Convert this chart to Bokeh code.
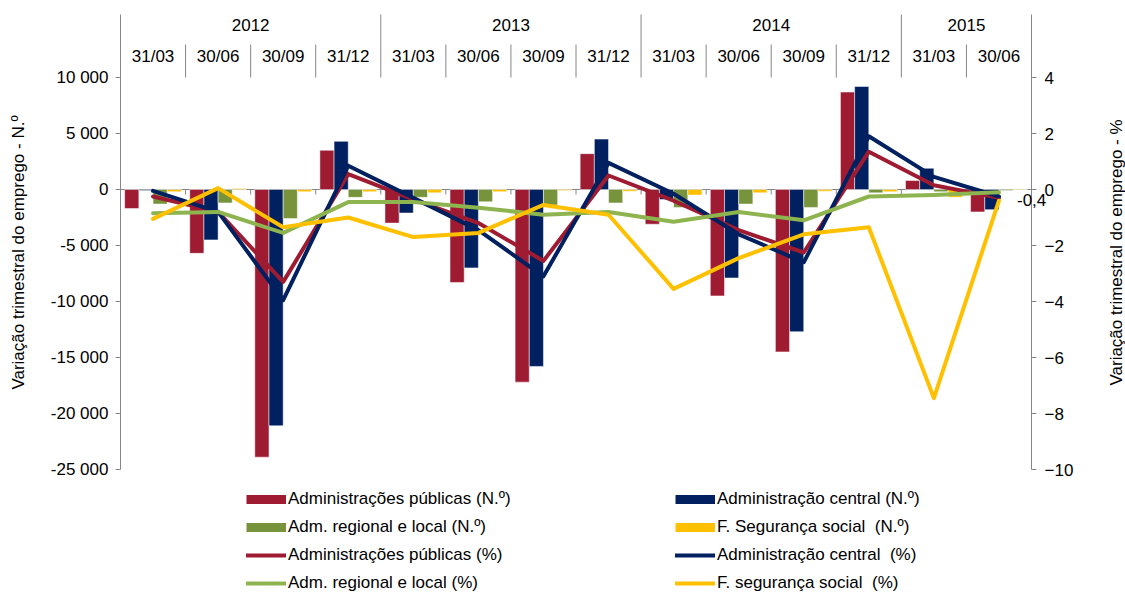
from bokeh.plotting import figure
from bokeh.models import (Range1d, LinearAxis, FixedTicker, Legend, LegendItem,
                          ColumnDataSource, Label)
from bokeh.transform import dodge
from bokeh.embed import file_html
from bokeh.resources import INLINE

# ---------------- data ----------------
quarters = ["31/03", "30/06", "30/09", "31/12",
            "31/03", "30/06", "30/09", "31/12",
            "31/03", "30/06", "30/09", "31/12",
            "31/03", "30/06"]
quarter_year = ["2012"] * 4 + ["2013"] * 4 + ["2014"] * 4 + ["2015"] * 2
years = ["2012", "2013", "2014", "2015"]

# quarterly change, number of jobs (left axis)
ap_n = [-1700, -5700, -23900, 3500, -3000, -8300, -17200, 3200, -3100, -9500, -14500, 8700, 800, -2000]
ac_n = [-100, -4500, -21100, 4300, -2100, -7000, -15800, 4500, -900, -7900, -12700, 9200, 1900, -1800]
arl_n = [-1300, -1200, -2600, -700, -700, -1100, -1400, -1200, -1600, -1300, -1600, -300, -200, -100]
fss_n = [-200, 100, -200, -200, -300, -200, -100, -150, -500, -300, -150, -200, -700, -50]

# quarterly change, % (right axis)
ap_p = [-0.25, -0.8, -3.3, 0.55, -0.35, -1.2, -2.55, 0.5, -0.4, -1.45, -2.25, 1.35, 0.15, -0.3]
ac_p = [-0.05, -0.8, -3.95, 0.85, -0.3, -1.45, -3.1, 0.95, -0.15, -1.6, -2.6, 1.9, 0.45, -0.25]
arl_p = [-0.85, -0.8, -1.55, -0.45, -0.45, -0.65, -0.9, -0.8, -1.15, -0.8, -1.1, -0.25, -0.2, -0.1]
fss_p = [-1.05, 0.05, -1.35, -1.0, -1.7, -1.55, -0.55, -0.9, -3.55, -2.45, -1.6, -1.35, -7.45, -0.4]

left_ticks = [-25000, -20000, -15000, -10000, -5000, 0, 5000, 10000]
right_ticks = [-10, -8, -6, -4, -2, 0, 2, 4]
left_bounds = (-25000, 15625)
right_bounds = (-10, 6.25)

bar_labels = ["Administrações públicas (N.º)", "Administração central (N.º)",
              "Adm. regional e local (N.º)", "F. Segurança social  (N.º)"]
line_labels = ["Administrações públicas (%)", "Administração central  (%)",
               "Adm. regional e local (%)", "F. segurança social  (%)"]
left_title = "Variação trimestral do emprego - N.º"
right_title = "Variação trimestral do emprego - %"

# ---------------- style / layout ----------------
RED = "#9E1B32"
NAVY = "#002060"
GREEN_BAR = "#77933C"
GREEN_LINE = "#8EB44F"
YELLOW = "#FFC000"
GREY = "#868686"
FONT = "Liberation Sans"
FS = "17px"

CW, CH = 1125, 596           # canvas
PLOT_L, PLOT_R = 120, 1031   # pixel edges of the category area
ZERO_Y = 189                 # pixel row of zero
PX = 5000 / 56.0             # left-axis units per pixel
PCT_PER_UNIT = 2 / 5000.0    # right axis: 2 % per 5 000

n = len(quarters)
idx = list(range(n))
PXX = (PLOT_R - PLOT_L) / n  # pixels per category

x_start = -0.5 - PLOT_L / PXX
x_end = -0.5 + (CW - PLOT_L) / PXX
y_start = -(CH - ZERO_Y) * PX
y_end = ZERO_Y * PX

p = figure(width=CW, height=CH, output_backend="svg", toolbar_location=None,
           x_range=Range1d(x_start, x_end), y_range=Range1d(y_start, y_end),
           x_axis_location=None, y_axis_location="left", min_border=0)
p.outline_line_color = None
p.grid.visible = False
p.background_fill_color = "white"
p.border_fill_color = "white"
p.extra_y_ranges = {"pct": Range1d(y_start * PCT_PER_UNIT, y_end * PCT_PER_UNIT)}

# axes (fixed at the edges of the category area)
yax = p.yaxis[0]
yax.ticker = FixedTicker(ticks=left_ticks)
yax.major_label_overrides = {t: f"{t:,}".replace(",", " ") for t in left_ticks}
yax.major_label_standoff = 7
yax.bounds = left_bounds
yax.fixed_location = -0.5
rax = LinearAxis(y_range_name="pct", ticker=FixedTicker(ticks=right_ticks))
rax.major_label_standoff = 8
rax.bounds = right_bounds
rax.fixed_location = n - 0.5
p.add_layout(rax, "right")
for ax in (yax, rax):
    ax.axis_line_color = GREY
    ax.major_tick_line_color = GREY
    ax.major_tick_out = 5
    ax.major_tick_in = 0
    ax.minor_tick_line_color = None
    ax.major_label_text_font = FONT
    ax.major_label_text_font_size = FS
    ax.major_label_text_color = "black"

# zero line with category ticks
p.segment(x0=[-0.5], y0=[0], x1=[n - 0.5], y1=[0], line_color=GREY, line_width=1, level="underlay")
bounds = [k - 0.5 for k in range(1, n)]
p.segment(x0=bounds, y0=[0] * len(bounds), x1=bounds, y1=[-5 * PX] * len(bounds),
          line_color=GREY, line_width=1)

# bars
w = 0.218
src = ColumnDataSource(dict(x=idx, ap=ap_n, ac=ac_n, arl=arl_n, fss=fss_n))
bar_cols = [("ap", RED), ("ac", NAVY), ("arl", GREEN_BAR), ("fss", YELLOW)]
bar_proxies = []
nan = float("nan")
for k, (col, color) in enumerate(bar_cols):
    p.vbar(x=dodge("x", (k - 1.5) * w, range=p.x_range), top=col, bottom=0, width=w,
           source=src, fill_color=color, line_color="white", line_alpha=0.5, line_width=1)
    # legend swatch: a thick flat stroke like the reference's bar key
    bar_proxies.append(p.line(x=[nan, nan], y=[nan, nan], line_color=color,
                              line_width=9, line_cap="butt"))

# lines
line_renderers = []
for vals, color in [(ap_p, RED), (ac_p, NAVY), (arl_p, GREEN_LINE), (fss_p, YELLOW)]:
    line_renderers.append(p.line(idx, vals, y_range_name="pct", line_color=color,
                                 line_width=4, line_join="round", line_cap="round"))

# data label on last F. segurança social point
p.add_layout(Label(x=idx[-1], y=fss_p[-1], y_range_name="pct", x_offset=18, y_offset=1,
                   text=f"{fss_p[-1]:.1f}".replace(".", ","), text_font=FONT,
                   text_font_size=FS, text_align="left", text_baseline="middle",
                   text_color="black"))

# header (two-level category axis at top)
Y1 = left_bounds[1]
HDR_BOTTOM = left_ticks[-1]
q_sep, y_sep = [], []
for k in range(1, n):
    (y_sep if quarter_year[k] != quarter_year[k - 1] else q_sep).append(k - 0.5)
p.segment(x0=y_sep, y0=[Y1] * len(y_sep), x1=y_sep, y1=[HDR_BOTTOM] * len(y_sep),
          line_color=GREY, line_width=1)
p.segment(x0=q_sep, y0=[Y1 - 30 * PX] * len(q_sep), x1=q_sep, y1=[HDR_BOTTOM] * len(q_sep),
          line_color=GREY, line_width=1)
p.text(x=idx, y=[Y1 - 42 * PX] * n, text=quarters, text_font={"value": FONT},
       text_font_size={"value": FS}, text_align="center", text_baseline="middle",
       text_color="black")
year_x = [sum(i for i in idx if quarter_year[i] == yv) / quarter_year.count(yv) for yv in years]
p.text(x=year_x, y=[Y1 - 10 * PX] * len(years), text=years, text_font={"value": FONT},
       text_font_size={"value": FS}, text_align="center", text_baseline="middle",
       text_color="black")

# axis titles
title_y = (ZERO_Y - 252) * PX
p.add_layout(Label(x=-0.5, y=title_y, x_offset=-102, text=left_title, angle=90,
                   angle_units="deg", text_font=FONT, text_font_size=FS,
                   text_align="center", text_baseline="middle", text_color="black"))
p.add_layout(Label(x=n - 0.5, y=title_y, x_offset=85, text=right_title, angle=90,
                   angle_units="deg", text_font=FONT, text_font_size=FS,
                   text_align="center", text_baseline="middle", text_color="black"))

# legends
def make_legend(items, loc):
    return Legend(items=items, location=loc, orientation="vertical",
                  glyph_width=40, glyph_height=20, label_height=20, label_standoff=2,
                  spacing=8, padding=0, margin=0, border_line_color=None,
                  background_fill_alpha=0, label_text_font=FONT, label_text_font_size=FS,
                  label_text_color="black")

left_items = [LegendItem(label=bar_labels[0], renderers=[bar_proxies[0]]),
              LegendItem(label=bar_labels[2], renderers=[bar_proxies[2]]),
              LegendItem(label=line_labels[0], renderers=[line_renderers[0]]),
              LegendItem(label=line_labels[2], renderers=[line_renderers[2]])]
right_items = [LegendItem(label=bar_labels[1], renderers=[bar_proxies[1]]),
               LegendItem(label=bar_labels[3], renderers=[bar_proxies[3]]),
               LegendItem(label=line_labels[1], renderers=[line_renderers[1]]),
               LegendItem(label=line_labels[3], renderers=[line_renderers[3]])]
p.add_layout(make_legend(left_items, (246, 3)))
p.add_layout(make_legend(right_items, (675, 3)))

open("out.html", "w").write(file_html(p, INLINE))
